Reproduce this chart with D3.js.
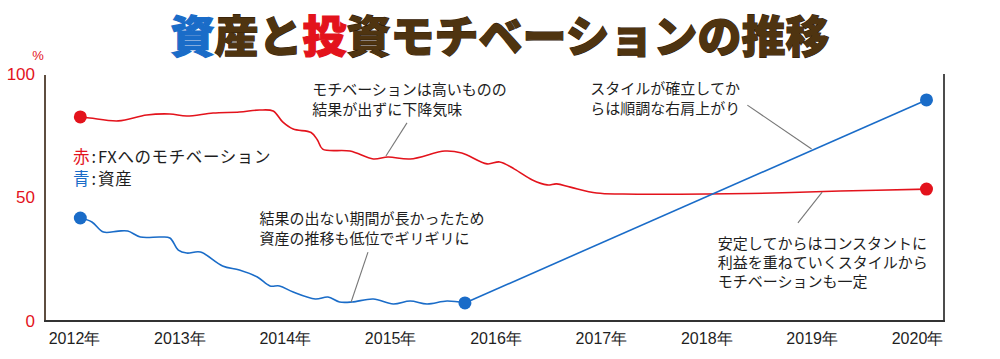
<!DOCTYPE html>
<html>
<head>
<meta charset="utf-8">
<script src="https://cdn.jsdelivr.net/npm/d3@7/dist/d3.min.js"></script>
<style>
	body { margin: 0; background: #fff; }
	svg { display: block; font-family: "Noto Sans CJK JP", "Noto Sans", sans-serif; }
</style>
</head>
<body>
<svg id="chart" width="1000" height="359"></svg>
<script>
// motivation (red), fractional years / percent
var redYears  = [2012.06, 2012.15, 2012.42, 2012.69, 2012.91, 2013.07, 2013.32, 2013.57, 2013.76, 2013.89, 2013.98, 2014.08, 2014.25, 2014.31, 2014.36, 2014.62, 2014.84, 2014.98, 2015.19, 2015.52, 2015.68, 2015.92, 2016.04, 2016.18, 2016.35, 2016.49, 2016.58, 2016.71, 2016.96, 2017.21, 2018.01, 2018.63, 2019.27, 2020.09];
var redValues = [82.2, 81.8, 80.6, 83.0, 83.4, 82.6, 83.8, 84.2, 85.0, 84.6, 80.2, 77.3, 75.9, 72.9, 69.2, 68.4, 65.2, 66.0, 65.2, 68.4, 67.6, 63.2, 64.0, 61.1, 56.7, 54.7, 55.1, 53.8, 51.4, 51.0, 51.0, 51.4, 52.2, 53.0];

// assets (blue): wavy part, then straight rise to the end
var blueYears  = [2012.06, 2012.17, 2012.28, 2012.42, 2012.51, 2012.63, 2012.82, 2012.91, 2012.99, 2013.07, 2013.20, 2013.41, 2013.57, 2013.74, 2013.86, 2013.95, 2014.08, 2014.29, 2014.41, 2014.52, 2014.64, 2014.84, 2015.03, 2015.19, 2015.35, 2015.54, 2015.71, 2020.09];
var blueValues = [41.3, 39.7, 35.6, 36.0, 36.0, 33.6, 33.6, 33.2, 28.3, 27.1, 27.5, 21.9, 20.2, 17.4, 13.8, 13.8, 11.3, 8.5, 9.3, 7.3, 7.3, 8.5, 6.5, 7.7, 6.5, 7.7, 6.9, 89.1];
var blueDots = [0, 26, 27];
var redDots = [0, 33];

var yearTicks = [2012, 2013, 2014, 2015, 2016, 2017, 2018, 2019, 2020];
var valueTicks = [0, 50, 100];

var notes = [
	{ lines: ["モチベーションは高いものの", "結果が出ずに下降気味"], year: 2014.26, value: 93.9, from: [2015.16, 79.8], to: [2014.96, 66.4], lh: 20 },
	{ lines: ["スタイルが確立してか", "らは順調な右肩上がり"], year: 2016.90, value: 94.3, from: [2018.39, 87.0], to: [2019.00, 69.2], lh: 20 },
	{ lines: ["結果の出ない期間が長かったため", "資産の推移も低位でギリギリに"], year: 2013.76, value: 41.7, from: [2014.79, 27.5], to: [2014.63, 7.3], lh: 20 },
	{ lines: ["安定してからはコンスタントに", "利益を重ねていくスタイルから", "モチベーションも一定"], year: 2018.11, value: 31.6, from: [2019.10, 51.8], to: [2018.87, 39.3], lh: 19 }
];

var RED = "#e3131c", BLUE = "#1a6cc8", BROWN = "#4f3410", TEXT = "#1e1e1e";

var svg = d3.select("#chart");
var x = d3.scaleLinear().domain([2012, 2020]).range([74, 917]);
var y = d3.scaleLinear().domain([0, 100]).range([320, 73]);

/*
Title
*/
var title = svg.append("text").attr("x", 500).attr("y", 34).attr("text-anchor", "middle").attr("dominant-baseline", "central")
	.attr("font-size", 44).attr("font-weight", 900).attr("stroke-width", 1.2).attr("paint-order", "stroke");
[["資", BLUE], ["産と", BROWN], ["投", RED], ["資モチベーションの推移", BROWN]].forEach(function(p) {
	title.append("tspan").text(p[0]).attr("fill", p[1]).attr("stroke", p[1] === BROWN ? "#33210a" : p[1]);
});

/*
Frame
*/
svg.append("line").attr("x1", 45).attr("x2", 45).attr("y1", 75).attr("y2", 321).attr("stroke", "#5e4e40").attr("stroke-width", 2);
svg.append("line").attr("x1", 944).attr("x2", 944).attr("y1", 74).attr("y2", 321).attr("stroke", "#111").attr("stroke-width", 1.5);
svg.append("line").attr("x1", 44).attr("x2", 945).attr("y1", 321).attr("y2", 321).attr("stroke", "#333").attr("stroke-width", 2);

/*
Axes (labels only)
*/
var yAxis = svg.append("g").attr("transform", "translate(35,0)")
	.call(d3.axisLeft(y).tickValues(valueTicks).tickSize(0).tickPadding(0));
yAxis.select(".domain").remove();
yAxis.selectAll("text").attr("fill", RED).attr("font-size", 17).attr("dy", "0.36em")
	.attr("font-family", "'Liberation Sans', Arial, sans-serif");
svg.append("text").attr("x", 38).attr("y", 60).attr("text-anchor", "middle").attr("fill", RED).attr("font-size", 13).text("%")
	.attr("font-family", "'Liberation Sans', Arial, sans-serif");

var xAxis = svg.append("g").attr("transform", "translate(0,332)")
	.call(d3.axisBottom(x).tickValues(yearTicks).tickSize(0).tickPadding(0).tickFormat(function(d) { return d + "年"; }));
xAxis.select(".domain").remove();
xAxis.selectAll("text").attr("fill", TEXT).attr("font-size", 16).attr("dy", "0.72em");

/*
Lines
*/
var redData = redYears.map(function(t, i) { return [t, redValues[i]]; });
var blueData = blueYears.map(function(t, i) { return [t, blueValues[i]]; });
var line = d3.line().x(function(d) { return x(d[0]); }).y(function(d) { return y(d[1]); });

svg.append("path").attr("d", line.curve(d3.curveCatmullRom.alpha(0.5))(redData))
	.attr("fill", "none").attr("stroke", RED).attr("stroke-width", 1.6);
svg.append("path").attr("d", line.curve(d3.curveCatmullRom.alpha(0.5))(blueData.slice(0, blueData.length - 1)))
	.attr("fill", "none").attr("stroke", BLUE).attr("stroke-width", 1.6);
svg.append("path").attr("d", line.curve(d3.curveLinear)(blueData.slice(blueData.length - 2)))
	.attr("fill", "none").attr("stroke", BLUE).attr("stroke-width", 1.6);

svg.selectAll(".rdot").data(redDots).enter().append("circle")
	.attr("cx", function(i) { return x(redYears[i]); }).attr("cy", function(i) { return y(redValues[i]); })
	.attr("r", 6.5).attr("fill", RED);
svg.selectAll(".bdot").data(blueDots).enter().append("circle")
	.attr("cx", function(i) { return x(blueYears[i]); }).attr("cy", function(i) { return y(blueValues[i]); })
	.attr("r", 6.5).attr("fill", BLUE);

/*
Legend (one text, one row per series)
*/
var legend = [["赤", RED, "FXへのモチベーション"], ["青", BLUE, "資産"]];
var lg = svg.append("text").attr("font-size", 16.5).attr("dominant-baseline", "central").attr("fill", TEXT);
legend.forEach(function(l, i) {
	lg.append("tspan").attr("x", 73).attr("y", 156 + i * 22).text(l[0]).attr("fill", l[1]);
	lg.append("tspan").attr("dx", 2).text(":");
	lg.append("tspan").attr("dx", 2).text(l[2]).attr("letter-spacing", 0.6);
});

/*
Annotations
*/
notes.forEach(function(n) {
	svg.append("line").attr("x1", x(n.from[0])).attr("y1", y(n.from[1])).attr("x2", x(n.to[0])).attr("y2", y(n.to[1]))
		.attr("stroke", "#777").attr("stroke-width", 1.1);
	var t = svg.append("text").attr("font-size", 15).attr("fill", TEXT).attr("dominant-baseline", "central");
	n.lines.forEach(function(s, i) {
		t.append("tspan").attr("x", x(n.year)).attr("y", y(n.value) + i * n.lh).text(s);
	});
});
</script>
</body>
</html>
